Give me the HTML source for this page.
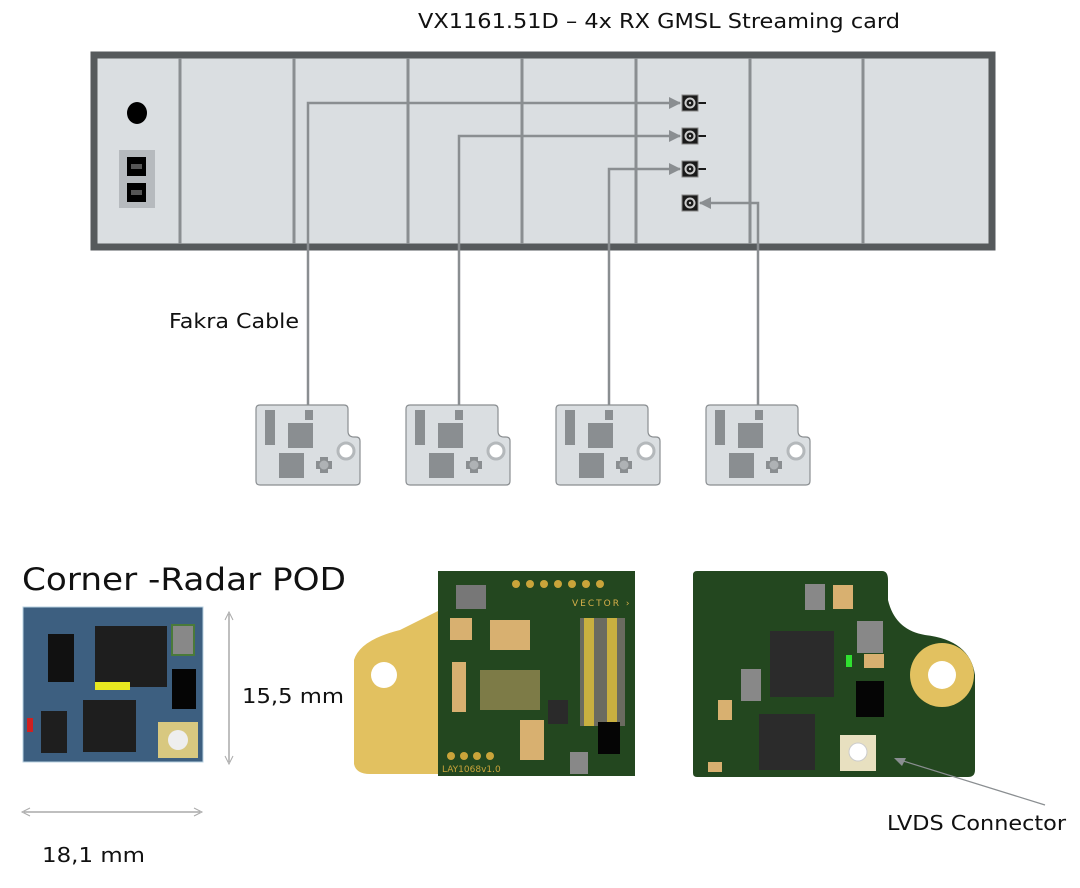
<!DOCTYPE html>
<html><head><meta charset="utf-8"><style>
html,body{margin:0;padding:0;background:#fff;}
svg{display:block;}
text{font-family:"DejaVu Sans","Liberation Sans",sans-serif;}
</style></head><body>
<svg width="1080" height="888" viewBox="0 0 1080 888" xmlns="http://www.w3.org/2000/svg">
<defs>
<marker id="ah" markerWidth="12" markerHeight="12" refX="11" refY="6" orient="auto" markerUnits="userSpaceOnUse">
<path d="M0,0 L12,6 L0,12 z" fill="#8a8e91"/></marker>
<g id="board">
<path d="M4,0 H88 Q92,0 92,4 V26 Q92,32 98,32 H100 Q104,32 104,36 V76 Q104,80 100,80 H4 Q0,80 0,76 V4 Q0,0 4,0 Z" fill="#dadee1" stroke="#8a8e91" stroke-width="1.2"/>
<circle cx="90" cy="46" r="8" fill="#fff" stroke="#b4b8bb" stroke-width="3"/>
<rect x="9" y="5" width="10" height="35" fill="#8a8e91"/>
<rect x="49" y="5" width="8" height="10" fill="#8a8e91"/>
<rect x="32" y="18" width="25" height="25" fill="#8a8e91"/>
<rect x="23" y="48" width="25" height="25" fill="#8a8e91"/>
<rect x="64" y="52" width="8" height="16" fill="#8a8e91"/>
<rect x="60" y="56" width="16" height="8" fill="#8a8e91"/>
<circle cx="68" cy="60" r="5" fill="#aeb2b5" stroke="#8a8e91"/>
</g>
<g id="conn"><rect x="-8" y="-8" width="16" height="16" fill="#1a1a1a" stroke="#888" stroke-width="1"/><circle r="5.5" fill="#ccc"/><circle r="3.5" fill="#1a1a1a"/><circle r="1.2" fill="#ccc"/></g>
</defs>

<text x="418" y="28" font-size="20" fill="#111" textLength="482" lengthAdjust="spacingAndGlyphs">VX1161.51D – 4x RX GMSL Streaming card</text>

<rect x="94" y="55" width="898" height="192" fill="#dadee1" stroke="#565a5c" stroke-width="7"/>
<g stroke="#8a8e91" stroke-width="3">
<line x1="180" y1="58" x2="180" y2="244"/><line x1="294" y1="58" x2="294" y2="244"/>
<line x1="408" y1="58" x2="408" y2="244"/><line x1="522" y1="58" x2="522" y2="244"/>
<line x1="636" y1="58" x2="636" y2="244"/><line x1="750" y1="58" x2="750" y2="244"/>
<line x1="863" y1="58" x2="863" y2="244"/>
</g>
<ellipse cx="137" cy="113" rx="10" ry="11" fill="#000"/>
<rect x="119" y="150" width="36" height="58" fill="#b6babe"/>
<rect x="127" y="157" width="19" height="19" fill="#000"/><rect x="131" y="164" width="11" height="5" fill="#555"/>
<rect x="127" y="183" width="19" height="19" fill="#000"/><rect x="131" y="190" width="11" height="5" fill="#555"/>

<g fill="none" stroke="#8a8e91" stroke-width="2.5">
<path d="M308,405 V103 H680" marker-end="url(#ah)"/>
<path d="M459,405 V136 H680" marker-end="url(#ah)"/>
<path d="M609,405 V169 H680" marker-end="url(#ah)"/>
<path d="M758,405 V203 H700" marker-end="url(#ah)"/>
</g>
<g stroke="#1a1a1a" stroke-width="2"><line x1="698" y1="103" x2="706" y2="103"/><line x1="698" y1="136" x2="706" y2="136"/><line x1="698" y1="169" x2="706" y2="169"/></g>
<use href="#conn" x="690" y="103"/><use href="#conn" x="690" y="136"/><use href="#conn" x="690" y="169"/><use href="#conn" x="690" y="203"/>

<text x="169" y="328" font-size="20" fill="#111" textLength="130" lengthAdjust="spacingAndGlyphs">Fakra Cable</text>

<use href="#board" x="256" y="405"/><use href="#board" x="406" y="405"/>
<use href="#board" x="556" y="405"/><use href="#board" x="706" y="405"/>

<text x="22" y="590" font-size="31" fill="#111" textLength="324" lengthAdjust="spacingAndGlyphs">Corner -Radar POD</text>

<rect x="23" y="607" width="180" height="155" fill="#3d5f80" stroke="#b8d0e0"/>
<rect x="95" y="626" width="72" height="61" fill="#1e1e1e"/>
<rect x="48" y="634" width="26" height="48" fill="#111"/>
<rect x="83" y="700" width="53" height="52" fill="#1e1e1e"/>
<rect x="172" y="669" width="24" height="40" fill="#050505"/>
<rect x="172" y="625" width="22" height="30" fill="#888" stroke="#4a7a3a" stroke-width="2"/>
<rect x="41" y="711" width="26" height="42" fill="#1e1e1e"/>
<rect x="158" y="722" width="40" height="36" fill="#d8c880"/>
<circle cx="178" cy="740" r="10" fill="#eee"/>
<rect x="95" y="682" width="35" height="8" fill="#e8e820"/>
<rect x="27" y="718" width="6" height="14" fill="#d02020"/>

<line x1="229" y1="614" x2="229" y2="762" stroke="#aaa" stroke-width="1.5"/>
<path d="M225,620 L229,612 L233,620 M225,756 L229,764 L233,756" fill="none" stroke="#aaa"/>
<text x="242" y="703" font-size="20" fill="#111" textLength="102" lengthAdjust="spacingAndGlyphs">15,5 mm</text>
<line x1="24" y1="812" x2="200" y2="812" stroke="#aaa" stroke-width="1.5"/>
<path d="M30,808 L22,812 L30,816 M194,808 L202,812 L194,816" fill="none" stroke="#aaa"/>
<text x="42" y="862" font-size="20" fill="#111" textLength="103" lengthAdjust="spacingAndGlyphs">18,1 mm</text>

<path d="M440,610 L400,630 Q360,640 354,660 V764 Q356,774 370,774 H440 Z" fill="#e2c160"/>
<circle cx="384" cy="675" r="13" fill="#fff"/>
<rect x="438" y="571" width="197" height="205" fill="#23471f"/>
<rect x="580" y="618" width="45" height="108" fill="#6b6b60"/>
<rect x="584" y="618" width="10" height="108" fill="#c9b040"/><rect x="607" y="618" width="10" height="108" fill="#c9b040"/>
<rect x="456" y="585" width="30" height="24" fill="#777"/>
<rect x="598" y="722" width="22" height="32" fill="#050505"/>
<rect x="548" y="700" width="20" height="24" fill="#2a2a2a"/>
<rect x="570" y="752" width="18" height="22" fill="#888"/>
<g fill="#c9a43a"><circle cx="516" cy="584" r="4"/><circle cx="530" cy="584" r="4"/><circle cx="544" cy="584" r="4"/><circle cx="558" cy="584" r="4"/><circle cx="572" cy="584" r="4"/><circle cx="586" cy="584" r="4"/><circle cx="600" cy="584" r="4"/>
<circle cx="451" cy="756" r="4"/><circle cx="464" cy="756" r="4"/><circle cx="477" cy="756" r="4"/><circle cx="490" cy="756" r="4"/></g>
<g fill="#d8b070"><rect x="450" y="618" width="22" height="22"/><rect x="452" y="662" width="14" height="50"/><rect x="490" y="620" width="40" height="30"/><rect x="520" y="720" width="24" height="40"/><rect x="480" y="670" width="60" height="40" opacity="0.5"/></g>
<text x="572" y="606" font-size="9" fill="#d6b04a" letter-spacing="2">VECTOR ›</text>
<text x="442" y="772" font-size="9" fill="#c9a43a">LAY1068v1.0</text>

<path d="M693,575 Q693,571 697,571 H882 Q888,571 888,580 V600 Q895,630 925,635 Q970,640 975,675 V770 Q975,777 968,777 H697 Q693,777 693,773 Z" fill="#23471f"/>
<circle cx="942" cy="675" r="32" fill="#e2c160"/><circle cx="942" cy="675" r="14" fill="#fff"/>
<rect x="770" y="631" width="64" height="66" fill="#2b2b2b"/>
<rect x="759" y="714" width="56" height="56" fill="#2b2b2b"/>
<rect x="856" y="681" width="28" height="36" fill="#050505"/>
<rect x="857" y="621" width="26" height="32" fill="#888"/>
<rect x="741" y="669" width="20" height="32" fill="#888"/>
<rect x="805" y="584" width="20" height="26" fill="#888"/>
<rect x="840" y="735" width="36" height="36" fill="#e8e0c0"/><circle cx="858" cy="752" r="9" fill="#fff" stroke="#ccc"/>
<rect x="846" y="655" width="6" height="12" fill="#30e030"/>
<g fill="#d8b070"><rect x="833" y="585" width="20" height="24"/><rect x="864" y="654" width="20" height="14"/><rect x="708" y="762" width="14" height="10"/><rect x="718" y="700" width="14" height="20"/></g>
<line x1="1045" y1="805" x2="900" y2="760" stroke="#8a8e91" stroke-width="1.2"/>
<path d="M894,758 L906,758 L902,766 Z" fill="#8a8e91"/>
<text x="887" y="830" font-size="20" fill="#111" textLength="179" lengthAdjust="spacingAndGlyphs">LVDS Connector</text>
</svg>
</body></html>
